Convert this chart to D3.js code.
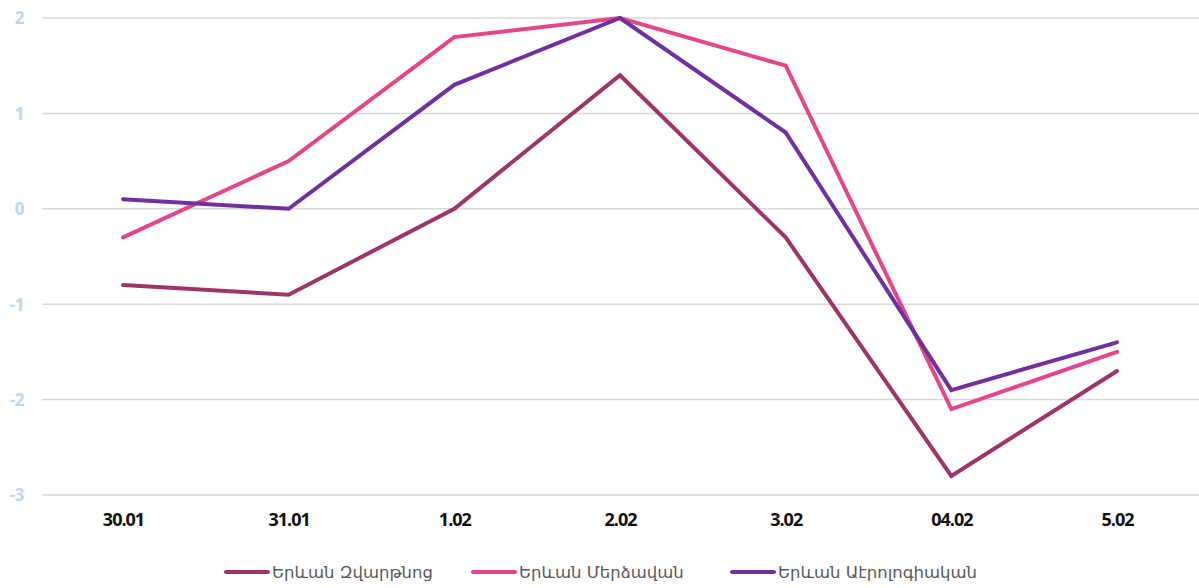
<!DOCTYPE html>
<html>
<head>
<meta charset="utf-8">
<script src="https://cdn.jsdelivr.net/npm/d3@7"></script>
<style>
  body { margin: 0; background: #fff; }
  svg { display: block; }
</style>
</head>
<body>
<svg id="chart"></svg>
<script>
// chart data
const dates = ['30.01', '31.01', '1.02', '2.02', '3.02', '04.02', '5.02'];
const seriesNames = ['Երևան Զվարթնոց', 'Երևան Մերձավան', 'Երևան Աէրոլոգիական'];
const zvartnots = [-0.8, -0.9, 0, 1.4, -0.3, -2.8, -1.7];
const merdzavan = [-0.3, 0.5, 1.8, 2.0, 1.5, -2.1, -1.5];
const aerology = [0.1, 0, 1.3, 2.0, 0.8, -1.9, -1.4];
const yTicks = [-3, -2, -1, 0, 1, 2];

const colors = ['#9e3468', '#e5458a', '#7030a0'];
const series = [zvartnots, merdzavan, aerology];

const width = 1199, height = 588;
const svg = d3.select('#chart').attr('width', width).attr('height', height);

const x = d3.scalePoint()
    .domain(dates)
    .range([123, 1117]);

const y = d3.scaleLinear()
    .domain([-3, 2])
    .range([495, 18]);

// grid lines
svg.append('g')
    .selectAll('line')
    .data(yTicks)
    .enter().append('line')
    .attr('x1', 42)
    .attr('x2', width)
    .attr('y1', d => y(d))
    .attr('y2', d => y(d))
    .attr('stroke', '#d9d9d9')
    .attr('stroke-width', 1.5);

// y labels (plain hyphen for negatives, like the original)
const yAxis = svg.append('g')
    .attr('transform', 'translate(24,0)')
    .call(d3.axisLeft(y).tickValues(yTicks).tickFormat(d => String(d)).tickSize(0).tickPadding(0));
yAxis.select('.domain').remove();
yAxis.selectAll('text')
    .attr('dy', '0.35em')
    .style('font-family', 'Open Sans, sans-serif')
    .style('font-weight', 'bold')
    .style('font-size', '17px')
    .style('letter-spacing', '-0.5px')
    .attr('fill', '#bdd7ee');

// x labels
const xAxis = svg.append('g')
    .attr('transform', 'translate(0,520)')
    .call(d3.axisBottom(x).tickSize(0).tickPadding(0));
xAxis.select('.domain').remove();
xAxis.selectAll('text')
    .attr('dy', '0.35em')
    .style('font-family', 'Open Sans, sans-serif')
    .style('font-weight', 'bold')
    .style('font-size', '18px')
    .style('letter-spacing', '-1px')
    .attr('fill', '#111');

// lines
const line = d3.line()
    .x((d, i) => x(dates[i]))
    .y(d => y(d));

svg.append('g')
    .selectAll('path')
    .data(series)
    .enter().append('path')
    .attr('d', line)
    .attr('fill', 'none')
    .attr('stroke', (d, i) => colors[i])
    .attr('stroke-width', 4)
    .attr('stroke-linecap', 'round')
    .attr('stroke-linejoin', 'miter');

// legend
const legendX = [226, 473, 732];
const legend = svg.append('g')
    .selectAll('g')
    .data(seriesNames)
    .enter().append('g')
    .attr('transform', (d, i) => `translate(${legendX[i]},572)`);

legend.append('line')
    .attr('x1', 0)
    .attr('x2', 42)
    .attr('stroke', (d, i) => colors[i])
    .attr('stroke-width', 4)
    .attr('stroke-linecap', 'round');

legend.append('text')
    .attr('x', 46)
    .attr('dy', '0.35em')
    .text(d => d)
    .style('font-family', 'DejaVu Sans, sans-serif')
    .style('font-size', '16.5px')
    .attr('fill', '#595959');
</script>
</body>
</html>
